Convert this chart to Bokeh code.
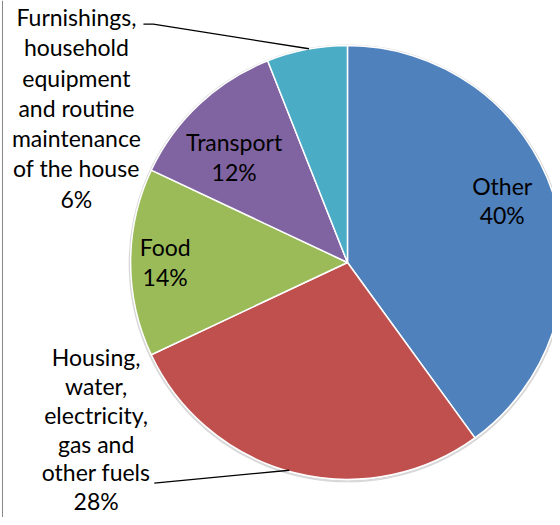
import math
from bokeh.plotting import figure
from bokeh.models import ColumnDataSource, Range1d
from bokeh.core.properties import value
from bokeh.embed import file_html
from bokeh.resources import INLINE

# ---- data ----
categories = ["Other", "Housing, water, electricity, gas and other fuels", "Food",
              "Transport", "Furnishings, household equipment and routine maintenance of the house"]
values = [40, 28, 14, 12, 6]
colors = ["#4F81BD", "#C0504D", "#9BBB59", "#8064A2", "#4BACC6"]
label_lines = [
    ["Other", "40%"],
    ["Housing,", "water,", "electricity,", "gas and", "other fuels", "28%"],
    ["Food", "14%"],
    ["Transport", "12%"],
    ["Furnishings,", "household", "equipment", "and routine", "maintenance", "of the house", "6%"],
]

# ---- layout (reference-pixel coordinates) ----
CX, CY, R = 352, 266, 220
label_anchor = [(509, 197), (97, 371), (167, 259), (237, 153), (77, 26)]
line_step = [30.0, 29.3, 30.5, 30.5, 30.7]
BASELINE_FIX = 9  # svg alphabetic baseline renders slightly low
leaders = [
    None,
    ([156, 293], [490, 477]),
    None,
    None,
    ([145, 155, 313], [24, 24, 49]),
]

total = sum(values)
starts, ends = [], []
cum = 0
for v in values:
    starts.append(math.pi / 2 - 2 * math.pi * cum / total)
    cum += v
    ends.append(math.pi / 2 - 2 * math.pi * cum / total)

p = figure(width=552, height=517, output_backend="svg", toolbar_location=None,
           x_range=Range1d(0, 560), y_range=Range1d(-525, 0), min_border=0)
p.axis.visible = False
p.grid.visible = False
p.outline_line_color = None
p.background_fill_color = "white"
p.border_fill_color = "white"

# chart-area left border
p.line(x=[2, 2], y=[0, -525], line_color="#868686", line_width=1)

# faint shadow ring
p.circle(x=[CX], y=[-CY - 1], radius=R + 1, fill_color=None, line_color="#d8d8d8", line_width=2)

src = ColumnDataSource(dict(x=[CX] * len(values), y=[-CY] * len(values),
                            start=starts, end=ends, color=colors, cat=categories))
p.wedge(x="x", y="y", radius=R, start_angle="start", end_angle="end", direction="clock",
        fill_color="color", line_color="white", line_width=1.5, source=src)

tx, ty, tt = [], [], []
for lines, (ax, ay), step in zip(label_lines, label_anchor, line_step):
    for i, line in enumerate(lines):
        tx.append(ax)
        ty.append(-(ay + i * step - BASELINE_FIX))
        tt.append(line)
p.text(x=tx, y=ty, text=tt, text_font=value("Lato"), text_font_size="23px",
       text_align="center", text_baseline="alphabetic", text_color="black")

for ld in leaders:
    if ld:
        p.line(x=ld[0], y=[-v for v in ld[1]], line_color="black", line_width=1.3)

open("out.html", "w").write(file_html(p, INLINE))
